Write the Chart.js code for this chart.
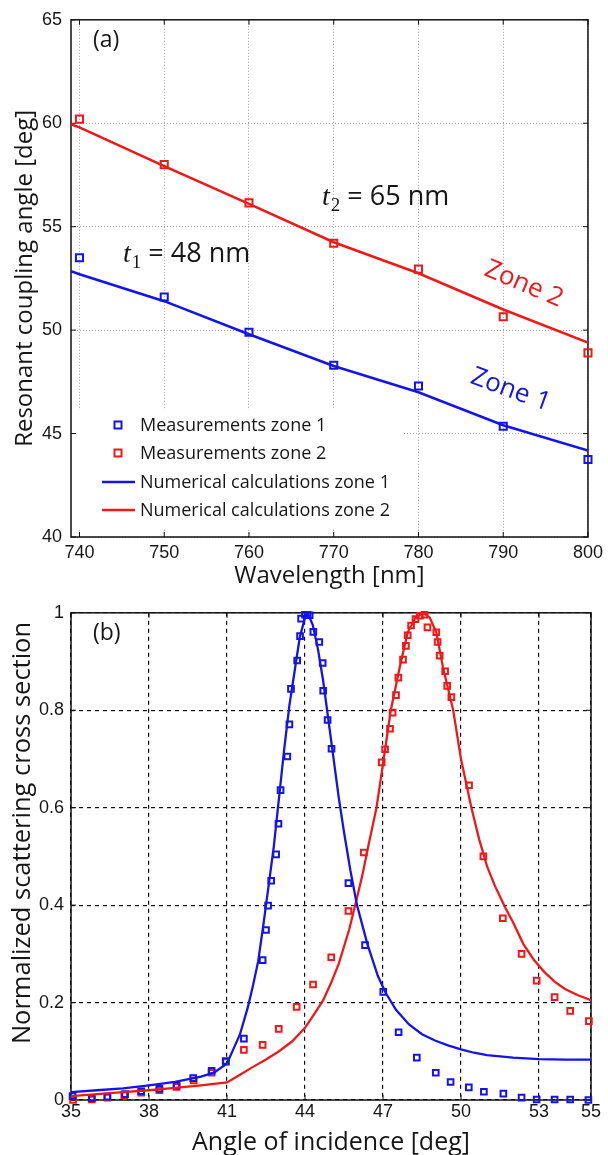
<!DOCTYPE html>
<html>
<head>
<meta charset="utf-8">
<script src="https://cdn.jsdelivr.net/npm/chart.js@4.4.1/dist/chart.umd.min.js"></script>
<style>
  html, body { margin: 0; padding: 0; background: #fff; }
  #wrap { position: relative; width: 608px; height: 1155px; overflow: hidden; background: #fff; }
  .panel { position: absolute; left: 0; }
</style>
</head>
<body>
<div id="wrap">
  <div class="panel" style="top:0;width:608px;height:595px"><canvas id="chartA" width="608" height="595"></canvas></div>
  <div class="panel" style="top:595px;width:608px;height:560px"><canvas id="chartB" width="608" height="560"></canvas></div>
</div>
<script>
// ---- Panel (a): resonant coupling angle versus wavelength ----
const wavelengths = [740, 750, 760, 770, 780, 790, 800];
const measuredZone1 = [53.5, 51.6, 49.9, 48.3, 47.3, 45.35, 43.75];
const measuredZone2 = [60.2, 58.0, 56.15, 54.2, 52.95, 50.65, 48.9];
const calcWavelengths = [739, 740, 750, 760, 770, 780, 790, 800];
const calcZone1 = [52.85, 52.7, 51.4, 49.8, 48.27, 47.0, 45.4, 44.18];
const calcZone2 = [59.95, 59.8, 57.93, 56.1, 54.25, 52.75, 51.0, 49.4];
const wavelengthTicks = [740, 750, 760, 770, 780, 790, 800];
const couplingTicks = [40, 45, 50, 55, 60, 65];

// ---- Panel (b): normalized scattering cross section versus angle ----
const anglesMeas1 = [35.06, 35.8, 36.4, 37.08, 37.7, 38.4, 39.06, 39.7, 40.41, 40.95, 41.65, 42.37, 42.5, 42.58, 42.7, 42.89, 42.98, 43.06, 43.32, 43.4, 43.46, 43.7, 43.81, 43.85, 44.0, 44.1, 44.18, 44.32, 44.55, 44.68, 44.7, 44.87, 45.02, 45.67, 46.31, 47.01, 47.6, 48.3, 49.03, 49.6, 50.3, 50.88, 51.63, 52.33, 52.91, 53.6, 54.2, 54.9];
const crossMeas1 = [0.008, 0.004, 0.007, 0.012, 0.018, 0.023, 0.03, 0.045, 0.06, 0.08, 0.126, 0.287, 0.349, 0.399, 0.45, 0.504, 0.567, 0.636, 0.705, 0.771, 0.844, 0.902, 0.952, 0.988, 0.996, 0.996, 0.995, 0.961, 0.94, 0.897, 0.84, 0.78, 0.721, 0.445, 0.318, 0.222, 0.139, 0.087, 0.056, 0.037, 0.026, 0.017, 0.013, 0.005, 0.001, 0.001, 0.001, 0.0];
const anglesMeas2 = [35.08, 35.8, 36.4, 37.05, 37.7, 38.4, 39.06, 39.72, 40.41, 40.96, 41.65, 42.37, 42.99, 43.68, 44.31, 45.01, 45.67, 46.26, 46.95, 47.08, 47.27, 47.37, 47.5, 47.59, 47.77, 47.88, 47.95, 48.08, 48.25, 48.42, 48.6, 48.71, 49.05, 49.1, 49.18, 49.39, 49.47, 49.63, 50.31, 50.86, 51.61, 52.33, 52.91, 53.6, 54.2, 54.92];
const crossMeas2 = [0.0, 0.001, 0.005, 0.01, 0.015, 0.02, 0.027, 0.04, 0.056, 0.078, 0.103, 0.113, 0.146, 0.191, 0.237, 0.293, 0.388, 0.508, 0.693, 0.72, 0.762, 0.795, 0.831, 0.867, 0.904, 0.932, 0.954, 0.974, 0.987, 0.994, 0.996, 0.97, 0.96, 0.94, 0.912, 0.88, 0.85, 0.827, 0.646, 0.5, 0.373, 0.3, 0.245, 0.211, 0.183, 0.162];
const anglesCalc1 = [35, 36, 37, 38, 39, 40, 40.5, 41, 41.25, 41.5, 41.8, 42.0, 42.2, 42.4, 42.6, 42.8, 43.0, 43.2, 43.4, 43.6, 43.8, 44.0, 44.1, 44.3, 44.5, 44.7, 44.9, 45.1, 45.3, 45.5, 45.75, 46.0, 46.4, 46.8, 47.1, 47.5, 48.0, 48.5, 49.0, 49.5, 50.0, 50.5, 51.0, 52.0, 53.0, 54.0, 55.0];
const crossCalc1 = [0.016, 0.02, 0.024, 0.03, 0.037, 0.048, 0.056, 0.075, 0.105, 0.135, 0.19, 0.235, 0.285, 0.36, 0.44, 0.52, 0.62, 0.72, 0.81, 0.88, 0.95, 0.99, 1.0, 0.975, 0.925, 0.86, 0.78, 0.70, 0.62, 0.55, 0.47, 0.40, 0.32, 0.255, 0.22, 0.185, 0.155, 0.135, 0.122, 0.112, 0.104, 0.097, 0.092, 0.087, 0.084, 0.083, 0.083];
const anglesCalc2 = [35, 36, 37, 38, 39, 40, 41, 41.5, 42, 42.5, 43, 43.5, 44, 44.4, 44.7, 45.0, 45.3, 45.7, 46.0, 46.2, 46.45, 46.75, 47.0, 47.3, 47.65, 47.95, 48.25, 48.55, 48.8, 49.05, 49.3, 49.7, 50.0, 50.4, 50.7, 51.0, 51.3, 51.7, 52.0, 52.4, 52.8, 53.2, 53.6, 54.0, 54.5, 55.0];
const crossCalc2 = [0.008, 0.012, 0.016, 0.02, 0.025, 0.03, 0.036, 0.052, 0.068, 0.083, 0.1, 0.12, 0.148, 0.18, 0.205, 0.24, 0.28, 0.35, 0.415, 0.46, 0.525, 0.60, 0.69, 0.80, 0.89, 0.96, 0.99, 1.0, 0.99, 0.96, 0.89, 0.80, 0.70, 0.60, 0.535, 0.48, 0.44, 0.395, 0.365, 0.32, 0.288, 0.263, 0.243, 0.228, 0.215, 0.205];
const angleTicks = [35, 38, 41, 44, 47, 50, 53, 55];
const crossTicks = [0, 0.2, 0.4, 0.6, 0.8, 1];

const BLUE = '#1414e6';
const RED = '#ec1a1a';
const INK = '#161616';
const TICK_FONT = { family: "'Liberation Sans', Arial, sans-serif", size: 18 };
const TITLE_FONT = { family: "'Open Sans', sans-serif", size: 24 };

const pairs = (xs, ys) => xs.map((x, i) => ({ x: x, y: ys[i] }));

function markerSet(label, xs, ys, color, radius) {
  return {
    label: label, data: pairs(xs, ys), showLine: false, clip: false,
    pointStyle: 'rect', pointRadius: radius, pointBorderWidth: 2,
    pointBorderColor: color, pointBackgroundColor: 'rgba(0,0,0,0)',
    borderColor: color, order: 2
  };
}
function curveSet(label, xs, ys, color, width) {
  return {
    label: label, data: pairs(xs, ys), showLine: true, tension: 0,
    borderColor: color, borderWidth: width, pointRadius: 0, order: 1
  };
}

// Closed axes box with inward tick marks on all four sides
const framePlugin = {
  id: 'frame',
  beforeDatasetsDraw(chart) {
    const { ctx, chartArea: a, scales } = chart;
    ctx.save();
    ctx.strokeStyle = '#111';
    ctx.lineWidth = 1.5;
    ctx.setLineDash([]);
    ctx.strokeRect(a.left, a.top, a.right - a.left, a.bottom - a.top);
    ctx.lineWidth = 1;
    const len = 5;
    scales.x.ticks.forEach(t => {
      const px = scales.x.getPixelForValue(t.value);
      ctx.beginPath();
      ctx.moveTo(px, a.bottom); ctx.lineTo(px, a.bottom - len);
      ctx.moveTo(px, a.top); ctx.lineTo(px, a.top + len);
      ctx.stroke();
    });
    scales.y.ticks.forEach(t => {
      const py = scales.y.getPixelForValue(t.value);
      ctx.beginPath();
      ctx.moveTo(a.left, py); ctx.lineTo(a.left + len, py);
      ctx.moveTo(a.right, py); ctx.lineTo(a.right - len, py);
      ctx.stroke();
    });
    ctx.restore();
  }
};

// Free text drawn on the plot area
function drawLabel(ctx, text, x, y, font, color, align, rot, baseline) {
  ctx.save();
  ctx.translate(x, y);
  if (rot) ctx.rotate(rot * Math.PI / 180);
  ctx.font = font;
  ctx.fillStyle = color;
  ctx.textAlign = align || 'left';
  ctx.textBaseline = baseline || 'alphabetic';
  ctx.fillText(text, 0, 0);
  ctx.restore();
}
function drawThickness(ctx, sub, rest, x, y) {
  ctx.save();
  ctx.fillStyle = INK;
  ctx.textBaseline = 'alphabetic';
  ctx.textAlign = 'left';
  ctx.font = "italic 28px 'Liberation Serif', serif";
  ctx.fillText('t', x, y);
  let w = ctx.measureText('t').width;
  ctx.font = "19px 'Liberation Serif', serif";
  ctx.fillText(sub, x + w + 1, y + 6);
  w += ctx.measureText(sub).width + 1;
  ctx.font = "27px 'Open Sans', sans-serif";
  ctx.fillText(rest, x + w, y);
  ctx.restore();
}

const notesA = {
  id: 'notesA',
  afterDatasetsDraw(chart) {
    const ctx = chart.ctx;
    drawLabel(ctx, '(a)', 93, 40, "23px 'Open Sans', sans-serif", INK, 'left', 0, 'middle');
    drawThickness(ctx, '2', ' = 65 nm', 322, 205);
    drawThickness(ctx, '1', ' = 48 nm', 123, 262);
    drawLabel(ctx, 'Zone 2', 521, 291, "26px 'Open Sans', sans-serif", RED, 'center', 23);
    drawLabel(ctx, 'Zone 1', 508, 397, "26px 'Open Sans', sans-serif", BLUE, 'center', 20);

    // legend box inside the plot area
    const ds = chart.data.datasets;
    ctx.save();
    ctx.fillStyle = '#fff';
    ctx.fillRect(76, 410, 328, 118);
    const rows = [425, 453, 482, 510];
    ds.forEach((d, i) => {
      const y = rows[i];
      ctx.strokeStyle = d.borderColor;
      if (d.showLine) {
        ctx.lineWidth = 2.5;
        ctx.beginPath(); ctx.moveTo(102, y); ctx.lineTo(135, y); ctx.stroke();
      } else {
        ctx.lineWidth = 2;
        ctx.strokeRect(114.5, y - 3.5, 7, 7);
      }
      ctx.fillStyle = INK;
      ctx.font = "18px 'Open Sans', sans-serif";
      ctx.textBaseline = 'middle';
      ctx.textAlign = 'left';
      ctx.fillText(d.label, 140, y + 1);
    });
    ctx.restore();
  }
};

const notesB = {
  id: 'notesB',
  afterDatasetsDraw(chart) {
    const ctx = chart.ctx;
    drawLabel(ctx, '(b)', 93, 38, "23px 'Open Sans', sans-serif", INK, 'left', 0, 'middle');
  },
  afterDraw(chart) {
    // vertical axis caption
    drawLabel(chart.ctx, 'Normalized scattering cross section', 23, 238, "25.5px 'Open Sans', sans-serif", INK, 'center', -90, 'middle');
  }
};

new Chart(document.getElementById('chartA'), {
  type: 'scatter',
  data: {
    datasets: [
      markerSet('Measurements zone 1', wavelengths, measuredZone1, BLUE, 5),
      markerSet('Measurements zone 2', wavelengths, measuredZone2, RED, 5),
      curveSet('Numerical calculations zone 1', calcWavelengths, calcZone1, BLUE, 2.6),
      curveSet('Numerical calculations zone 2', calcWavelengths, calcZone2, RED, 2.6)
    ]
  },
  options: {
    responsive: false, animation: false,
    layout: { padding: { top: 17, right: 17, left: 0, bottom: 0 } },
    plugins: { legend: { display: false }, tooltip: { enabled: false } },
    scales: {
      x: {
        type: 'linear', min: 739, max: 800,
        afterBuildTicks: s => { s.ticks = wavelengthTicks.map(v => ({ value: v })); },
        afterFit: s => { s.height = 58; },
        ticks: { font: TICK_FONT, color: INK, padding: 5, maxRotation: 0, autoSkip: false },
        grid: { color: '#a0a0a0', lineWidth: 1, drawTicks: false },
        border: { display: false, dash: [1, 2] },
        title: { display: true, text: 'Wavelength [nm]', font: { family: TITLE_FONT.family, size: 24, lineHeight: 1.2 }, color: INK, padding: { top: 0, bottom: 4 } }
      },
      y: {
        type: 'linear', min: 40, max: 65,
        afterBuildTicks: s => { s.ticks = couplingTicks.map(v => ({ value: v })); },
        afterFit: s => { s.width = 71; },
        ticks: { font: TICK_FONT, color: INK, padding: 9 },
        grid: { color: '#a0a0a0', lineWidth: 1, drawTicks: false },
        border: { display: false, dash: [1, 2] },
        title: { display: true, text: 'Resonant coupling angle [deg]', font: { family: TITLE_FONT.family, size: 24, lineHeight: 1.2 }, color: INK, padding: { top: 11, bottom: 0 } }
      }
    }
  },
  plugins: [framePlugin, notesA]
});

new Chart(document.getElementById('chartB'), {
  type: 'scatter',
  data: {
    datasets: [
      markerSet('Measurements zone 1', anglesMeas1, crossMeas1, BLUE, 4),
      markerSet('Measurements zone 2', anglesMeas2, crossMeas2, RED, 4),
      curveSet('Numerical calculations zone 1', anglesCalc1, crossCalc1, BLUE, 2.3),
      curveSet('Numerical calculations zone 2', anglesCalc2, crossCalc2, RED, 2.3)
    ]
  },
  options: {
    responsive: false, animation: false,
    layout: { padding: { top: 9, right: 17, left: 0, bottom: 0 } },
    plugins: { legend: { display: false }, tooltip: { enabled: false } },
    scales: {
      x: {
        type: 'linear', min: 35, max: 55,
        afterBuildTicks: s => { s.ticks = angleTicks.map(v => ({ value: v })); },
        afterFit: s => { s.height = 55; },
        ticks: { font: TICK_FONT, color: INK, padding: 1, maxRotation: 0, autoSkip: false },
        grid: { color: '#111', lineWidth: 1.2, drawTicks: false },
        border: { display: false, dash: [4, 4] },
        title: { display: true, text: 'Angle of incidence [deg]', font: { family: TITLE_FONT.family, size: 25, lineHeight: 1 }, color: INK, padding: { top: 0, bottom: 0 } }
      },
      y: {
        type: 'linear', min: 0, max: 1,
        afterBuildTicks: s => { s.ticks = crossTicks.map(v => ({ value: v })); },
        afterFit: s => { s.width = 71; },
        ticks: { font: TICK_FONT, color: INK, padding: 7, callback: v => String(v) },
        grid: { color: '#111', lineWidth: 1.2, drawTicks: false },
        border: { display: false, dash: [4, 4] },
        title: { display: false }
      }
    }
  },
  plugins: [framePlugin, notesB]
});
</script>
</body>
</html>
